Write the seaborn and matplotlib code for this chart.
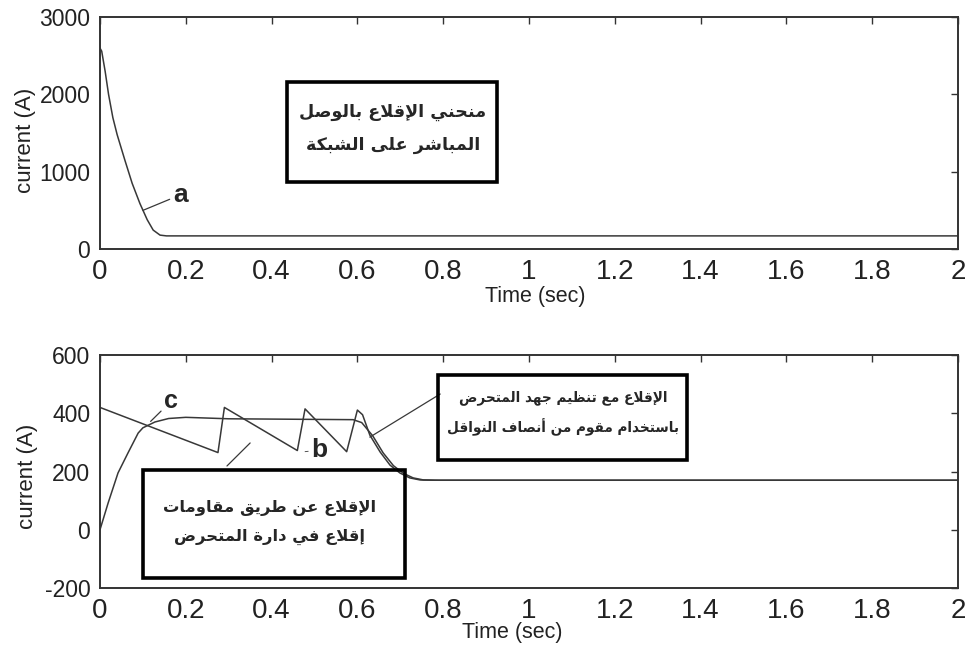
import matplotlib
matplotlib.use("Agg")
import matplotlib.pyplot as plt
from matplotlib.patches import Rectangle
import pandas as pd
import seaborn as sns

# ---- data ---------------------------------------------------------------
# (a) direct-on-line starting current
time_a = [0.000, 0.004, 0.012, 0.020, 0.030, 0.040, 0.058, 0.075, 0.093,
          0.110, 0.124, 0.140, 0.155, 2.000]
current_a = [2600, 2560, 2300, 2000, 1700, 1480, 1150, 850, 590,
             380, 245, 180, 170, 170]

# (b) starting through rotor resistances
time_b = [0.000, 0.275, 0.290, 0.460, 0.478, 0.575, 0.600, 0.612, 0.629,
          0.653, 0.676, 0.699, 0.722, 0.746, 0.780, 2.000]
current_b = [420, 265, 420, 272, 415, 268, 411, 395, 325,
             267, 222, 195, 178, 171, 170, 170]

# (c) starting with rotor-voltage control (semiconductor converter)
time_c = [0.000, 0.019, 0.042, 0.065, 0.089, 0.100, 0.128, 0.160, 0.200,
          0.300, 0.590, 0.610, 0.636, 0.660, 0.684, 0.707, 0.730, 0.754,
          0.790, 2.000]
current_c = [0, 92, 195, 263, 332, 350, 370, 382, 386,
             381, 378, 368, 322, 264, 220, 194, 178, 171,
             170, 170]

x_ticks = [0, 0.2, 0.4, 0.6, 0.8, 1.0, 1.2, 1.4, 1.6, 1.8, 2.0]
x_tick_labels = ["0", "0.2", "0.4", "0.6", "0.8", "1", "1.2", "1.4", "1.6", "1.8", "2"]
y_ticks_top = [0, 1000, 2000, 3000]
y_ticks_bottom = [-200, 0, 200, 400, 600]

caption_a = ["منحني الإقلاع بالوصل", "المباشر على الشبكة"]
caption_b = ["الإقلاع عن طريق مقاومات", "إقلاع في دارة المتحرض"]
caption_c = ["الإقلاع مع تنظيم جهد المتحرض", "باستخدام مقوم من أنصاف النواقل"]

# ---- Arabic shaping ------------------------------------------------------
# matplotlib lays glyphs out left-to-right without contextual joining, so
# convert each letter to its Presentation Forms-B variant and reverse.
FOUR_FORM = {'ئ': 0xFE89, 'ب': 0xFE8F, 'ت': 0xFE95, 'ث': 0xFE99, 'ج': 0xFE9D,
             'ح': 0xFEA1, 'خ': 0xFEA5, 'س': 0xFEB1, 'ش': 0xFEB5, 'ص': 0xFEB9,
             'ض': 0xFEBD, 'ط': 0xFEC1, 'ظ': 0xFEC5, 'ع': 0xFEC9, 'غ': 0xFECD,
             'ف': 0xFED1, 'ق': 0xFED5, 'ك': 0xFED9, 'ل': 0xFEDD, 'م': 0xFEE1,
             'ن': 0xFEE5, 'ه': 0xFEE9, 'ي': 0xFEF1}
TWO_FORM = {'آ': 0xFE81, 'أ': 0xFE83, 'ؤ': 0xFE85, 'إ': 0xFE87, 'ا': 0xFE8D,
            'ة': 0xFE93, 'د': 0xFEA9, 'ذ': 0xFEAB, 'ر': 0xFEAD, 'ز': 0xFEAF,
            'و': 0xFEED, 'ى': 0xFEEF}
LAM_ALEF = {'آ': 0xFEF5, 'أ': 0xFEF7, 'إ': 0xFEF9, 'ا': 0xFEFB}


def shape_line(text):
    units, i = [], 0
    while i < len(text):
        ch = text[i]
        if ch == 'ل' and i + 1 < len(text) and text[i + 1] in LAM_ALEF:
            units.append(('LA', text[i + 1]))
            i += 2
        else:
            units.append(('C', ch))
            i += 1

    def links_forward(u):
        return u[0] == 'C' and u[1] in FOUR_FORM

    def links_back(u):
        return u[0] == 'LA' or u[1] in FOUR_FORM or u[1] in TWO_FORM

    glyphs = []
    for k, u in enumerate(units):
        prev = units[k - 1] if k > 0 else None
        nxt = units[k + 1] if k + 1 < len(units) else None
        jp = prev is not None and links_forward(prev) and links_back(u)
        jn = nxt is not None and links_forward(u) and links_back(nxt)
        if u[0] == 'LA':
            glyphs.append(chr(LAM_ALEF[u[1]] + (1 if jp else 0)))
        elif u[1] in FOUR_FORM:
            off = 3 if (jp and jn) else 2 if jn else 1 if jp else 0
            glyphs.append(chr(FOUR_FORM[u[1]] + off))
        elif u[1] in TWO_FORM:
            glyphs.append(chr(TWO_FORM[u[1]] + (1 if jp else 0)))
        else:
            glyphs.append(u[1])
    return ''.join(reversed(glyphs))


def shape_block(lines):
    return '\n'.join(shape_line(s) for s in lines)


# ---- styling -------------------------------------------------------------
sns.set_style("white")
plt.rcParams['font.family'] = ['Liberation Sans', 'DejaVu Sans']

LINE = '#383838'
FRAME = '#333333'

fig = plt.figure(figsize=(9.67, 6.55), dpi=100)
ax1 = fig.add_axes([0.1034, 0.6198, 0.8873, 0.354])
ax2 = fig.add_axes([0.1034, 0.1023, 0.8873, 0.3557])


def style_axes(ax, yticks, xlab_pos, ylab_pos):
    ax.set_xlim(0, 2)
    ax.set_ylim(yticks[0], yticks[-1])
    ax.set_xticks(x_ticks)
    ax.set_xticklabels(x_tick_labels)
    ax.set_yticks(yticks)
    ax.set_yticklabels([str(v) for v in yticks])
    ax.tick_params(axis='both', direction='in', top=True, right=True,
                   length=5, width=1, color=FRAME, labelcolor='#222222')
    ax.tick_params(axis='x', labelsize=20, pad=7)
    ax.tick_params(axis='y', labelsize=16.5, pad=7)
    for sp in ax.spines.values():
        sp.set_visible(True)
        sp.set_color(FRAME)
        sp.set_linewidth(1.4)
    ax.set_xlabel("Time (sec)", fontsize=15.5, color='#222222')
    ax.set_ylabel("current (A)", fontsize=16, color='#222222')
    ax.xaxis.label.set_va('center')
    ax.yaxis.label.set_va('center')
    ax.xaxis.set_label_coords(*xlab_pos)
    ax.yaxis.set_label_coords(*ylab_pos)
    ax.set_facecolor('white')


def caption(ax, x, y, lines, size, spacing):
    ax.text(x, y, shape_block(lines), ha='center', va='center',
            multialignment='center', linespacing=spacing,
            family=['DejaVu Sans'], weight='bold', size=size, zorder=5)


df_a = pd.DataFrame({'time': time_a, 'current': current_a})
df_b = pd.DataFrame({'time': time_b, 'current': current_b})
df_c = pd.DataFrame({'time': time_c, 'current': current_c})

# ---- top panel: direct-on-line start --------------------------------------
sns.lineplot(data=df_a, x='time', y='current', ax=ax1, color=LINE,
             linewidth=1.1, estimator=None, sort=False)
style_axes(ax1, y_ticks_top, (0.507, -0.205), (-0.087, 0.47))

ax1.annotate('a', xy=(0.100, 500), xytext=(0.170, 700),
             fontsize=19, fontweight='bold', ha='left', va='center',
             arrowprops=dict(arrowstyle='-', color=LINE, lw=0.9,
                             shrinkA=0, shrinkB=0))
ax1.add_patch(Rectangle((0.436, 866), 0.489, 1293, fill=False,
                        edgecolor='black', linewidth=2.6, zorder=4))
caption(ax1, 0.683, 1560, caption_a, 12.6, 2.0)

# ---- bottom panel: resistance start vs. voltage-control start -------------
sns.lineplot(data=df_b, x='time', y='current', ax=ax2, color=LINE,
             linewidth=1.1, estimator=None, sort=False)
sns.lineplot(data=df_c, x='time', y='current', ax=ax2, color=LINE,
             linewidth=1.1, estimator=None, sort=False)
style_axes(ax2, y_ticks_bottom, (0.481, -0.193), (-0.085, 0.48))

ax2.annotate('c', xy=(0.118, 372), xytext=(0.150, 442),
             fontsize=18, fontweight='bold', ha='left', va='center',
             arrowprops=dict(arrowstyle='-', color=LINE, lw=0.9,
                             shrinkA=0, shrinkB=0))
ax2.annotate('b', xy=(0.478, 268), xytext=(0.493, 275),
             fontsize=19, fontweight='bold', ha='left', va='center',
             arrowprops=dict(arrowstyle='-', color=LINE, lw=0.6,
                             shrinkA=0, shrinkB=0))

# leader lines from the caption boxes to their curves
ax2.plot([0.296, 0.350], [219, 298], color=LINE, lw=0.9)
ax2.plot([0.793, 0.629], [466, 318], color=LINE, lw=0.9)

ax2.add_patch(Rectangle((0.100, -166), 0.611, 371, fill=False,
                        edgecolor='black', linewidth=2.6, zorder=4))
caption(ax2, 0.395, 25, caption_b, 11.8, 2.1)

ax2.add_patch(Rectangle((0.788, 239), 0.580, 292, fill=False,
                        edgecolor='black', linewidth=2.6, zorder=4))
caption(ax2, 1.080, 400, caption_c, 9.8, 1.95)

fig.savefig("out.png", dpi=100, facecolor='white')
